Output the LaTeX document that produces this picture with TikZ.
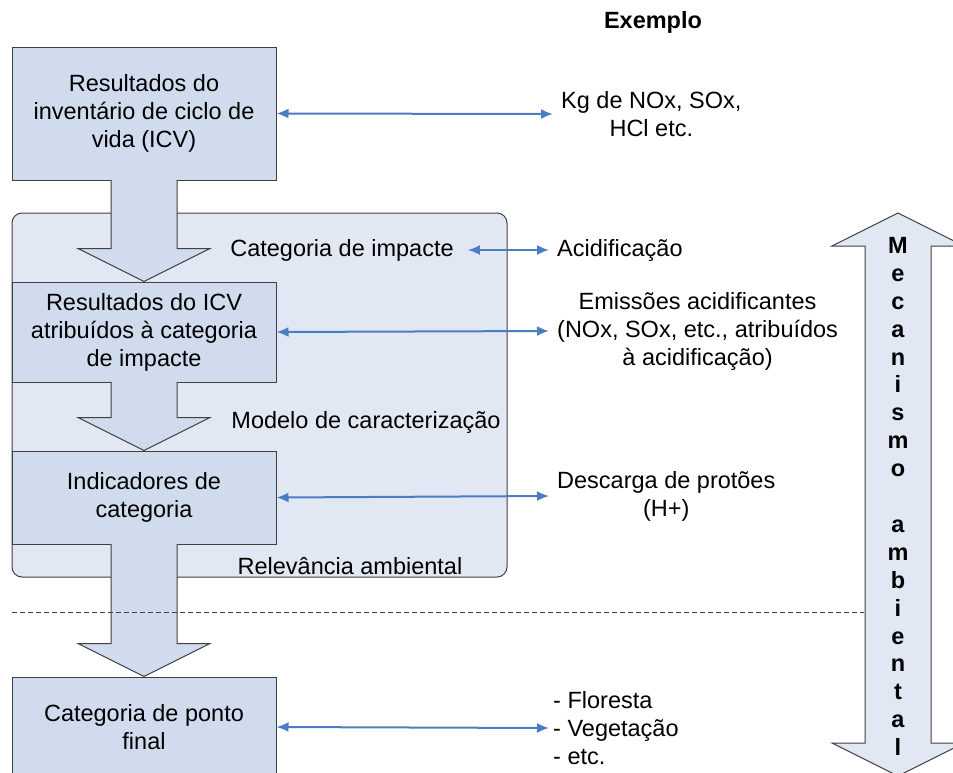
\documentclass[tikz,border=0pt]{standalone}
\usepackage{fontspec}
\setmainfont{Liberation Sans}
\usetikzlibrary{arrows.meta,calc}

\definecolor{boxfill}{RGB}{208,220,238}
\definecolor{panelfill}{RGB}{226,232,243}
\definecolor{linkblue}{RGB}{74,126,193}
\definecolor{edgegray}{RGB}{64,64,64}

\begin{document}
\begin{tikzpicture}[
  x=1pt, y=-1pt,
  >={Latex[length=12pt,width=10pt]},
  every node/.style = {font=\fontsize{23.5}{28}\selectfont},
  box/.style   = {
    draw=edgegray, fill=boxfill, line width=1pt,
    minimum width=264pt,
    align=center, inner sep=0pt
  },
  label/.style   = {align=center, inner sep=0pt},
  example/.style = {anchor=west, align=center, inner xsep=8pt, inner ysep=0pt},
  link/.style    = {<->, draw=linkblue, line width=2pt},
  flow/.style    = {draw=edgegray, fill=boxfill, line width=1pt, line join=miter}
]
\useasboundingbox (0,0) rectangle (953,772);

% ---- constants ----
\def\sw{33}   % half width of a shaft
\def\hw{66}   % half width of an arrow head
\def\hh{33}   % height of an arrow head

% ---- background panel ----
\node[draw=edgegray, fill=panelfill, rounded corners=10pt, line width=1pt,
      minimum width=495pt, minimum height=364pt] (aicv) at (259.5,395) {};

% ---- boxes (left column) ----
\node[box, minimum height=133pt] (icv) at (144,113.5)
  {Resultados do\\inventário de ciclo de\\vida (ICV)};
\node[box, minimum height=100pt] (icvcat) at (144,332)
  {Resultados do ICV\\atribuídos à categoria\\de impacte};
\node[box, minimum height=93pt] (ind) at (144,497.5)
  {Indicadores de\\categoria};
\node[box, minimum height=100pt] (endpt) at (144,727)
  {Categoria de ponto\\final};

% ---- block arrows between boxes ----
\foreach \a/\b in {icv/icvcat, icvcat/ind, ind/endpt}{
  \draw[flow] ($(\a.south)+(-\sw,-0.6)$) -- ($(\b.north)+(-\sw,-\hh)$)
    -- ($(\b.north)+(-\hw,-\hh)$) -- (\b.north) -- ($(\b.north)+(\hw,-\hh)$)
    -- ($(\b.north)+(\sw,-\hh)$) -- ($(\a.south)+(\sw,-0.6)$);
}

% ---- labels inside the panel ----
\node[label] (catimp) at (342,250) {Categoria de impacte};
\node[label] (modelo) at (366,422) {Modelo de caracterização};
\node[label] (relev)  at (350,566) {Relevância ambiental};

% ---- example column ----
\node[label, font=\fontsize{23.5}{28}\selectfont\bfseries] (exemplo) at (653,22) {Exemplo};
\node[example] (ex1) at (553,114) {Kg de NOx, SOx,\\HCl etc.};
\node[example] (ex2) at (549,250) {Acidificação};
\node[example] (ex3) at (549,331)
  {Emissões acidificantes\\(NOx, SOx, etc., atribuídos\\à acidificação)};
\node[example] (ex4) at (549,496) {Descarga de protões\\(H+)};
\node[example, align=left, inner xsep=4pt] (ex5) at (549,728)
  {- Floresta\\- Vegetação\\- etc.};

% ---- links ----
\draw[link] (icv.east) -- (ex1.west);
\draw[link] ([xshift=14pt]catimp.east) -- (ex2.west);
\draw[link] (icvcat.east) -- (ex3.west);
\draw[link] (ind.east) -- (ex4.west);
\draw[link] (endpt.east) -- (ex5.west);

% ---- environmental mechanism (double arrow) ----
\draw[flow, fill=panelfill] (898,213) -- (964,246) -- (931,246) -- (931,743)
  -- (964,743) -- (898,776) -- (832,743) -- (865,743) -- (865,246)
  -- (832,246) -- cycle;
\node[label, font=\fontsize{23.5}{27.9}\selectfont\bfseries] (mec) at (898,496.5)
  {M\\e\\c\\a\\n\\i\\s\\m\\o\\\mbox{}\\a\\m\\b\\i\\e\\n\\t\\a\\l};

% ---- separator ----
\coordinate (sepL) at (12,612);
\coordinate (sepR) at (864,612);
\draw[edgegray, line width=0.8pt, dash pattern=on 5pt off 3pt] (sepL) -- (sepR);

\end{tikzpicture}
\end{document}
